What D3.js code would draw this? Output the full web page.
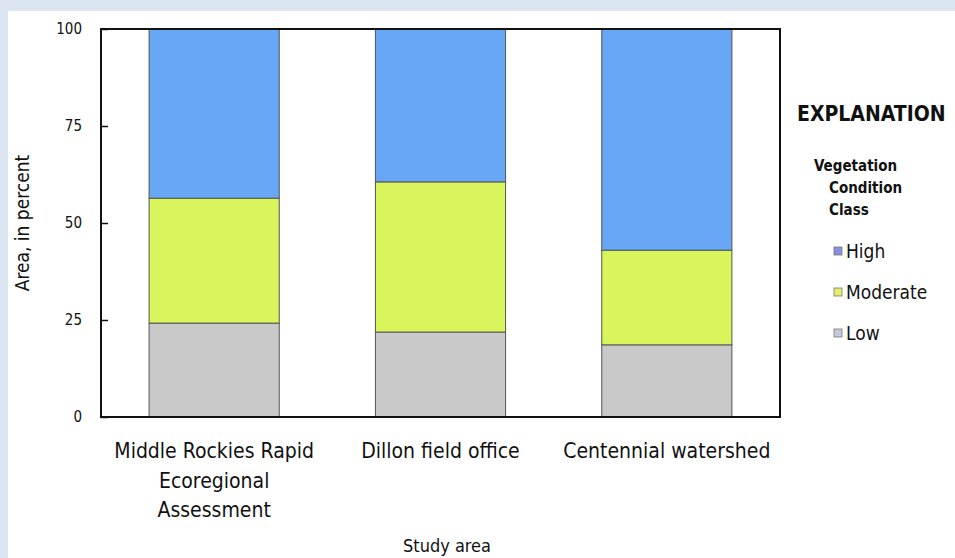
<!DOCTYPE html>
<html>
<head>
<style type="text/css">
	body { margin: 0; background: #dce6f2; }
	#chart { position: absolute; left: 0; top: 0; }
	text { font-family: "Liberation Sans Narrow", "DejaVu Sans Condensed", "Roboto Condensed", sans-serif; fill: #111; }
</style>
<title></title>
</head>
<body>
<div id="chart"></div>
<script src="https://d3js.org/d3.v7.min.js"></script>
<script type="text/javascript">
	// data
	var areas = ["Middle Rockies Rapid|Ecoregional|Assessment", "Dillon field office", "Centennial watershed"];
	var classes = ["Low", "Moderate", "High"];
	var lowValues = [24.2, 21.9, 18.6];
	var moderateValues = [32.2, 38.7, 24.4];
	var highValues = [43.6, 39.4, 57.0];
	var yTicks = [0, 25, 50, 75, 100];

	var barColors = {Low: "#c9c9c9", Moderate: "#d8f65c", High: "#68a7f6"};
	var keyColors = {High: "#8a8fe2", Moderate: "#e3ee6a", Low: "#c6c9dd"};

	var W = 955, H = 558;
	var margin = {top: 29, left: 101},
		width = 780 - 101,
		height = 417 - 29;

	var svg = d3.select("#chart").append("svg")
		.attr("width", W)
		.attr("height", H);

	// white panel
	svg.append("rect")
		.attr("x", 8).attr("y", 11)
		.attr("width", W - 8).attr("height", H - 11)
		.attr("fill", "#fff");

	var g = svg.append("g")
		.attr("transform", "translate(" + margin.left + "," + margin.top + ")");

	var x = d3.scaleBand()
		.domain(areas)
		.range([0, width])
		.paddingInner(0.425)
		.paddingOuter(0.2125);

	var y = d3.scaleLinear()
		.domain([0, 100])
		.range([height, 0]);

	var rows = areas.map(function(a, i){
		return {area: a, Low: lowValues[i], Moderate: moderateValues[i], High: highValues[i]};
	});

	var stack = d3.stack().keys(classes);
	var series = stack(rows);

	g.selectAll(".layer")
		.data(series)
		.enter().append("g")
		.attr("class", "layer")
		.attr("fill", function(d){ return barColors[d.key]; })
		.selectAll("rect")
		.data(function(d){ return d; })
		.enter().append("rect")
		.attr("x", function(d){ return x(d.data.area); })
		.attr("y", function(d){ return y(d[1]); })
		.attr("width", x.bandwidth())
		.attr("height", function(d){ return y(d[0]) - y(d[1]); })
		.attr("stroke", "#555")
		.attr("stroke-width", 1);

	// frame
	g.append("rect")
		.attr("x", 0).attr("y", 0)
		.attr("width", width).attr("height", height)
		.attr("fill", "none")
		.attr("stroke", "#111")
		.attr("stroke-width", 2);

	// y axis, ticks inward
	var yAxis = d3.axisLeft(y)
		.tickValues(yTicks)
		.tickSize(-7)
		.tickPadding(19);

	var ya = g.append("g").call(yAxis);
	ya.select(".domain").remove();
	ya.selectAll(".tick line").attr("stroke", "#111").attr("stroke-width", 1.5);
	ya.selectAll(".tick text")
		.style("font-size", "15px")
		.attr("fill", "#111");

	// x axis labels
	var xAxis = d3.axisBottom(x).tickSize(0).tickFormat("");
	var xa = g.append("g")
		.attr("transform", "translate(0," + height + ")")
		.call(xAxis);
	xa.select(".domain").remove();
	xa.selectAll(".tick").each(function(d){
		var t = d3.select(this).append("text")
			.attr("text-anchor", "middle")
			.style("font-size", "21px");
		d.split("|").forEach(function(line, i){
			t.append("tspan")
				.attr("x", 0)
				.attr("y", 41 + i * 29.5)
				.text(line);
		});
	});

	// axis titles
	svg.append("text")
		.attr("transform", "translate(29," + (margin.top + height / 2) + ") rotate(-90)")
		.attr("text-anchor", "middle")
		.style("font-size", "19px")
		.text("Area, in percent");

	svg.append("text")
		.attr("x", 447)
		.attr("y", 552)
		.attr("text-anchor", "middle")
		.style("font-size", "18px")
		.text("Study area");

	// explanation
	var legend = svg.append("g");
	legend.append("text")
		.attr("x", 797).attr("y", 121)
		.style("font-size", "21px")
		.style("font-weight", "bold")
		.text("EXPLANATION");

	[["Vegetation", 814, 171], ["Condition", 829, 193], ["Class", 829, 215]].forEach(function(r){
		legend.append("text")
			.attr("x", r[1]).attr("y", r[2])
			.style("font-size", "15px")
			.style("font-weight", "bold")
			.text(r[0]);
	});

	var keyOrder = ["High", "Moderate", "Low"];
	var keyY = d3.scalePoint().domain(keyOrder).range([251, 333]);

	var item = legend.selectAll(".key")
		.data(keyOrder)
		.enter().append("g")
		.attr("class", "key")
		.attr("transform", function(d){ return "translate(834," + keyY(d) + ")"; });

	item.append("rect")
		.attr("x", 0).attr("y", -4)
		.attr("width", 8).attr("height", 8)
		.attr("fill", function(d){ return keyColors[d]; })
		.attr("stroke", "#777")
		.attr("stroke-width", 0.8);

	item.append("text")
		.attr("x", 12).attr("y", 7)
		.style("font-size", "19px")
		.text(function(d){ return d; });
</script>
</body>
</html>
